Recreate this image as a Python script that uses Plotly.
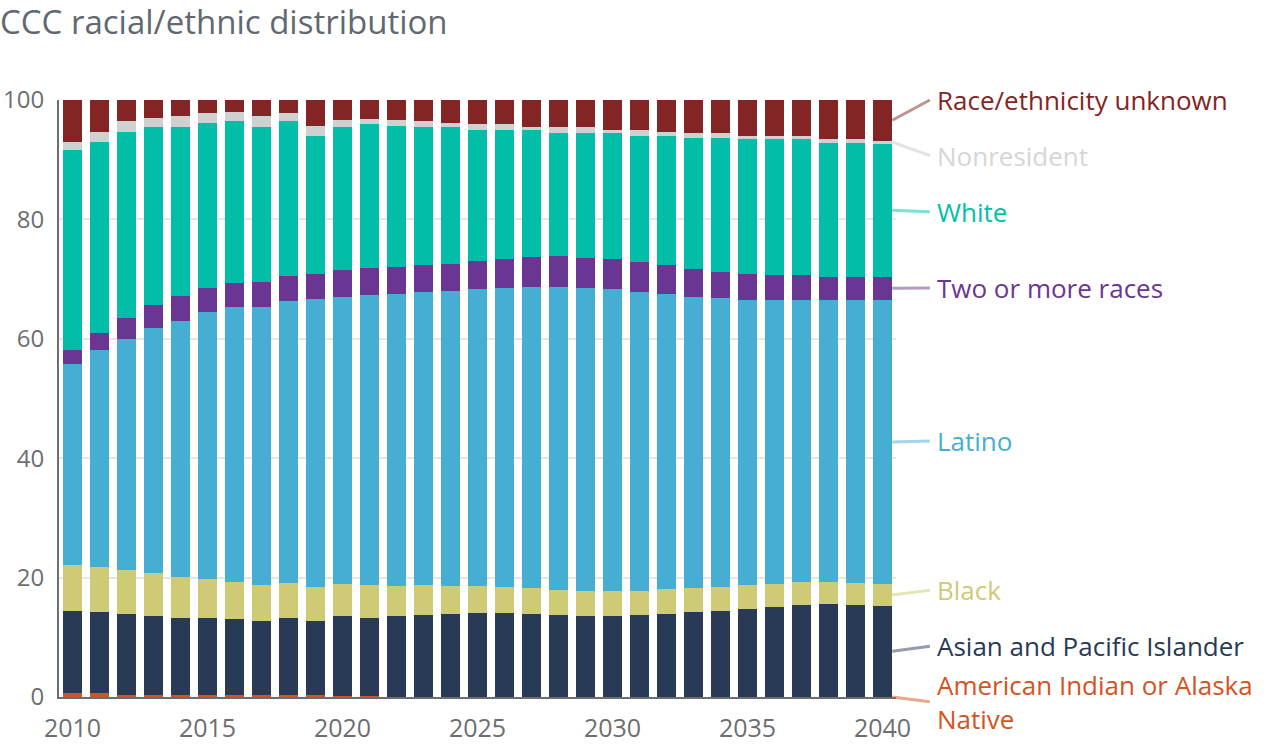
import plotly.graph_objects as go

years = list(range(2010, 2041))

aian = [0.6, 0.6, 0.4, 0.4, 0.4, 0.4, 0.4, 0.4, 0.4, 0.4, 0.2, 0.2,
        0, 0, 0, 0, 0, 0, 0, 0, 0, 0, 0, 0, 0, 0, 0, 0, 0, 0, 0]
asian = [13.8, 13.6, 13.5, 13.2, 12.8, 12.8, 12.7, 12.3, 12.8, 12.3, 13.4, 13.0,
         13.6, 13.7, 13.9, 14.1, 14.1, 13.9, 13.7, 13.6, 13.6, 13.7, 13.9, 14.2,
         14.4, 14.7, 15.1, 15.4, 15.6, 15.4, 15.3]
black = [7.7, 7.6, 7.4, 7.2, 6.9, 6.6, 6.2, 6.1, 5.9, 5.7, 5.3, 5.6, 5.0, 5.1,
         4.7, 4.5, 4.3, 4.4, 4.2, 4.2, 4.2, 4.1, 4.2, 4.1, 4.0, 4.1, 3.8, 3.9,
         3.7, 3.7, 3.6]
latino = [33.7, 36.4, 38.7, 41.0, 42.9, 44.7, 46.1, 46.6, 47.3, 48.3, 48.1, 48.6,
          48.9, 49.1, 49.4, 49.8, 50.1, 50.4, 50.8, 50.7, 50.6, 50.1, 49.4, 48.7,
          48.5, 47.7, 47.6, 47.2, 47.2, 47.4, 47.6]
two_plus = [2.4, 2.8, 3.5, 3.9, 4.2, 4.0, 4.0, 4.1, 4.1, 4.2, 4.6, 4.5, 4.6, 4.5,
            4.6, 4.7, 4.9, 5.0, 5.2, 5.1, 5.0, 5.0, 4.9, 4.7, 4.3, 4.4, 4.2, 4.2,
            3.9, 3.9, 3.9]
white = [33.5, 32.0, 31.2, 29.7, 28.3, 27.7, 27.1, 26.0, 25.9, 23.1, 23.9, 24.0,
         23.6, 23.1, 22.8, 21.9, 21.6, 21.2, 20.6, 20.9, 21.0, 21.1, 21.6, 22.0,
         22.5, 22.6, 22.7, 22.7, 22.4, 22.4, 22.3]
nonresident = [1.3, 1.7, 1.7, 1.6, 1.9, 1.7, 1.5, 1.9, 1.5, 1.7, 1.2, 1.0, 1.0,
               1.0, 0.8, 1.0, 0.9, 0.6, 0.9, 0.9, 0.6, 0.9, 0.7, 0.7, 0.7, 0.5,
               0.5, 0.5, 0.6, 0.6, 0.5]
unknown = [7.0, 5.3, 3.6, 3.0, 2.6, 2.1, 2.0, 2.6, 2.1, 4.3, 3.3, 3.1, 3.3, 3.5,
           3.8, 4.0, 4.1, 4.5, 4.6, 4.6, 5.0, 5.1, 5.3, 5.6, 5.6, 6.0, 6.1, 6.1,
           6.6, 6.6, 6.8]

names = ["American Indian or Alaska<br>Native", "Asian and Pacific Islander", "Black",
         "Latino", "Two or more races", "White", "Nonresident",
         "Race/ethnicity unknown"]
series = [aian, asian, black, latino, two_plus, white, nonresident, unknown]
colors = ["#d4531f", "#283a55", "#cfca76", "#45aed2", "#6a3693", "#02bda8",
          "#d0d0d0", "#822524"]
text_colors = ["#d4531f", "#283a55", "#cfca76", "#45aed2", "#6a3693", "#02bda8",
               "#d6d6d6", "#822524"]
line_colors = ["rgba(212,83,31,0.5)", "rgba(40,58,85,0.5)", "rgba(207,202,118,0.5)",
               "rgba(69,174,210,0.5)", "rgba(106,54,147,0.5)", "rgba(2,189,168,0.5)",
               "rgba(208,208,208,0.6)", "rgba(130,37,36,0.5)"]
# label anchor heights (percent scale), spread to avoid overlaps
label_y = [-0.8, 8.5, 17.9, 42.9, 68.5, 81.3, 90.7, 100.0]

FONT = "Open Sans"
Y_MAX = 100.0

fig = go.Figure()
for name, vals, col in zip(names, series, colors):
    fig.add_trace(go.Bar(x=years, y=vals, name=name.replace("<br>", " "),
                         marker=dict(color=col, line=dict(width=0))))

# leader lines and labels
cum = 0.0
for i, vals in enumerate(series):
    mid = cum + vals[-1] / 2.0
    cum += vals[-1]
    fig.add_shape(type="line", xref="paper", yref="paper", x0=0.9955, x1=1.0405,
                  y0=mid / Y_MAX, y1=label_y[i] / Y_MAX,
                  line=dict(color=line_colors[i], width=3))
    fig.add_annotation(xref="paper", yref="paper", x=1.047, y=label_y[i] / Y_MAX,
                       text=names[i], showarrow=False, xanchor="left", yanchor="middle",
                       align="left",
                       font=dict(family=FONT, size=26, color=text_colors[i]))

fig.update_layout(
    barmode="stack",
    bargap=0.33,
    width=1279, height=749,
    margin=dict(l=59, r=383, t=100, b=52),
    paper_bgcolor="white", plot_bgcolor="white",
    showlegend=False,
    font=dict(family=FONT, color="#6d6e71"),
    title=dict(text="CCC racial/ethnic distribution", xref="container", yref="container",
               x=0.0, xanchor="left", y=1 - 22 / 749, yanchor="middle",
               font=dict(family=FONT, size=33, color="#616870")),
    xaxis=dict(range=[2009.5, 2040.5], tickvals=[2010, 2015, 2020, 2025, 2030, 2035, 2040],
               showgrid=False, showline=True, linecolor="#6d6e71", linewidth=2,
               ticks="outside", ticklen=8, tickcolor="rgba(0,0,0,0)",
               tickfont=dict(family=FONT, size=25, color="#6d6e71"), zeroline=False,
               automargin=False),
    yaxis=dict(range=[0, Y_MAX], tickvals=[0, 20, 40, 60, 80, 100],
               showgrid=True, gridcolor="#e6e6e6", gridwidth=2,
               showline=True, linecolor="#6d6e71", linewidth=2,
               ticks="outside", ticklen=8, tickcolor="rgba(0,0,0,0)",
               tickfont=dict(family=FONT, size=24, color="#6d6e71"), zeroline=False,
               automargin=False),
)

fig.write_html("out.html")
